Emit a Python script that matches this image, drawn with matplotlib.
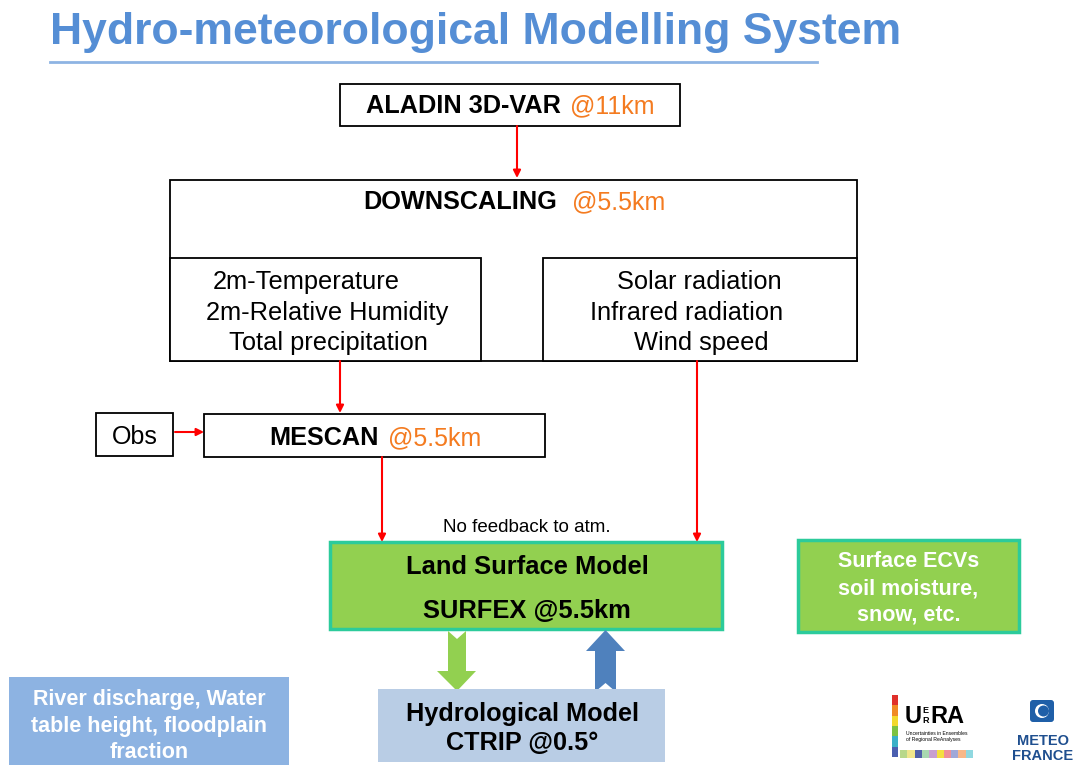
import matplotlib.pyplot as plt
from matplotlib.patches import Rectangle, Polygon, FancyBboxPatch, Circle

plt.rcParams['font.family'] = ['Liberation Sans', 'DejaVu Sans']

# diagram text
title = 'Hydro-meteorological Modelling System'
aladin = ['ALADIN 3D-VAR', '@11km']
downscaling = ['DOWNSCALING', '@5.5km']
left_vars = ['2m-Temperature', '2m-Relative Humidity', 'Total precipitation']
right_vars = ['Solar radiation', 'Infrared radiation', 'Wind speed']
mescan = ['MESCAN', '@5.5km']
obs_label = 'Obs'
feedback_note = 'No feedback to atm.'
lsm_lines = ['Land Surface Model', 'SURFEX @5.5km']
hydro_lines = ['Hydrological Model', 'CTRIP @0.5°']
ecv_lines = ['Surface ECVs', 'soil moisture,', 'snow, etc.']
river_lines = ['River discharge, Water', 'table height, floodplain', 'fraction']
uerra_caption = ['Uncertainties in Ensembles', 'of Regional ReAnalyses']
mf_lines = ['METEO', 'FRANCE']

BLUE_T = '#558ED5'
ORANGE = '#F47B20'
GREEN = '#92D050'
TEAL = '#2CCB9B'
RED = '#FF0000'

fig = plt.figure(figsize=(10.75, 7.65), dpi=100)
ax = fig.add_axes([0, 0, 1, 1])
ax.set_xlim(0, 1075)
ax.set_ylim(765, 0)
ax.axis('off')


def box(x0, y0, x1, y1, fc='white', ec='black', lw=1.3):
    ax.add_patch(Rectangle((x0, y0), x1 - x0, y1 - y0, fc=fc, ec=ec, lw=lw))


def split_label(parts, xsplit, y, gap=9):
    ax.text(xsplit, y, parts[0], ha='right', va='baseline', fontsize=18.2,
            fontweight='bold', color='black')
    ax.text(xsplit + gap, y, parts[1], ha='left', va='baseline', fontsize=18,
            color=ORANGE)


def arrow(x0, y0, x1, y1):
    ax.annotate('', xy=(x1, y1), xytext=(x0, y0),
                arrowprops=dict(arrowstyle='-|>', color=RED, lw=1.5,
                                mutation_scale=11, shrinkA=0, shrinkB=0))


# title
ax.text(50, 44, title, ha='left', va='baseline', fontsize=32,
        fontweight='bold', color=BLUE_T)
ax.plot([50, 817], [62, 62], color='#8EB4E3', lw=2)

# ALADIN
box(340, 84, 680, 126)
split_label(aladin, 561, 113)
arrow(517, 126, 517, 178)

# downscaling block
box(170, 180, 857, 361)
box(170, 258, 481, 361)
box(543, 258, 857, 361)
split_label(downscaling, 557, 209, gap=15)
for x, y, s in zip([213, 206, 229], [289, 320, 350], left_vars):
    ax.text(x, y, s, ha='left', va='baseline', fontsize=18.3)
for x, y, s in zip([617, 590, 634], [289, 320, 350], right_vars):
    ax.text(x, y, s, ha='left', va='baseline', fontsize=18.3)

# MESCAN + Obs
arrow(340, 361, 340, 413)
box(96, 413, 173, 456)
ax.text(134.5, 444, obs_label, ha='center', va='baseline', fontsize=18)
arrow(175, 432, 204, 432)
box(204, 414, 545, 457)
split_label(mescan, 379, 445)

# to land surface model
arrow(382, 457, 382, 542)
arrow(697, 361, 697, 542)
ax.text(527, 532, feedback_note, ha='center', va='baseline', fontsize=13.5)

box(330, 542, 722, 629, fc=GREEN, ec=TEAL, lw=2.5)
for y, s in zip([574, 618], lsm_lines):
    ax.text(527, y, s, ha='center', va='baseline', fontsize=18.4,
            fontweight='bold')

# block arrows between LSM and hydrology
ax.add_patch(Polygon([(448, 631), (457, 639), (466, 631), (466, 671),
                      (476, 671), (457, 691), (437, 671), (448, 671)],
                     closed=True, fc=GREEN, ec='none'))
ax.add_patch(Polygon([(595, 692), (605.5, 683), (616, 692), (616, 651),
                      (625, 651), (605.5, 630), (586, 651), (595, 651)],
                     closed=True, fc='#4F81BD', ec='none'))

ax.add_patch(Rectangle((378, 689), 287, 73, fc='#B9CDE5', ec='none'))
for y, s in zip([721, 750], hydro_lines):
    ax.text(522, y, s, ha='center', va='baseline', fontsize=18.2,
            fontweight='bold')

# outputs
box(798, 540, 1019, 632, fc=GREEN, ec=TEAL, lw=2.5)
for y, s in zip([567, 594, 621], ecv_lines):
    ax.text(908.5, y, s, ha='center', va='baseline', fontsize=15.5,
            fontweight='bold', color='white')

ax.add_patch(Rectangle((9, 677), 280, 95, fc='#8DB3E2', ec='none'))
for y, s in zip([705, 732, 758], river_lines):
    ax.text(149, y, s, ha='center', va='baseline', fontsize=15.5,
            fontweight='bold', color='white')

# UERRA logo
rainbow = ['#E0302A', '#F08A24', '#F2D82C', '#7CC242', '#3AB0C8', '#4A5FB0']
for i, c in enumerate(rainbow):
    ax.add_patch(Rectangle((892, 695 + i * 10.3), 6, 10.5, fc=c, ec='none'))
ax.text(905, 723, 'U', ha='left', va='baseline', fontsize=17,
        fontweight='bold')
ax.text(922, 713, 'E', ha='left', va='baseline', fontsize=6.5,
        fontweight='bold')
ax.text(922, 723, 'R', ha='left', va='baseline', fontsize=6.5,
        fontweight='bold')
ax.text(930, 723, 'RA', ha='left', va='baseline', fontsize=17,
        fontweight='bold')
ax.text(906, 735, uerra_caption[0], ha='left', va='baseline', fontsize=3.6)
ax.text(906, 741, uerra_caption[1], ha='left', va='baseline', fontsize=3.6)
squares = ['#B8D88A', '#F0E68C', '#5060A8', '#A8D8B0', '#C8A0D0',
           '#F4E040', '#F09098', '#A0A8D8', '#F8B888', '#90D8E0']
for i, c in enumerate(squares):
    ax.add_patch(Rectangle((900 + i * 7.3, 750), 7.3, 8, fc=c, ec='none'))

# Meteo France logo
MF = '#1F4F8F'
ax.add_patch(FancyBboxPatch((1030, 700), 24, 22,
                            boxstyle='round,pad=0,rounding_size=3',
                            fc='#1F5FA8', ec='none'))
ax.add_patch(Circle((1042, 711), 7, fc='white', ec='none'))
ax.add_patch(Circle((1043.5, 711), 5.5, fc='#1F5FA8', ec='none'))
for y, s in zip([745, 760], mf_lines):
    ax.text(1043, y, s, ha='center', va='baseline', fontsize=10.5,
            fontweight='bold', color=MF)

plt.savefig('out.png', dpi=100)
